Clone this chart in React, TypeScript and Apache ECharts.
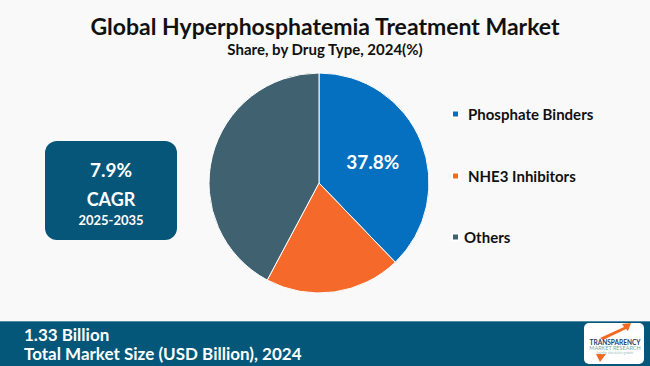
import React, { useEffect, useRef } from "react";
import * as echarts from "echarts";

const categories = ["Phosphate Binders", "NHE3 Inhibitors", "Others"];
const shares = [37.8, 20.0, 42.2];
const colors = ["#0570bf", "#f56a2a", "#3f6170"];
const titleText = "Global Hyperphosphatemia Treatment Market";
const subtitleText = "Share, by Drug Type, 2024(%)";
const cagrValue = "7.9%";
const cagrLabel = "CAGR";
const cagrPeriod = "2025-2035";
const marketSize = "1.33 Billion";
const marketLabel = "Total Market Size (USD Billion), 2024";

const legendCenters = [114, 176, 237];

export default function App() {
  const ref = useRef<HTMLDivElement>(null);
  useEffect(() => {
    document.body.style.margin = "0";
    const chart = echarts.init(ref.current!, null, { renderer: "svg" });
    const font = "Lato, 'Open Sans', sans-serif";
    chart.setOption({
      animation: false,
      backgroundColor: "#f9f9f9",
      title: [
        {
          text: titleText,
          left: "center",
          top: 9,
          textStyle: { fontFamily: font, fontSize: 23, fontWeight: "bold", color: "#111" },
        },
        {
          text: subtitleText,
          left: "center",
          top: 36,
          textStyle: { fontFamily: font, fontSize: 15, fontWeight: "bold", color: "#111" },
        },
      ],
      legend: categories.map((c, i) => ({
        data: [c],
        left: 451,
        top: legendCenters[i] - 8,
        padding: 0,
        icon: "rect",
        itemWidth: 7,
        itemHeight: 7,
        itemGap: 0,
        selectedMode: false,
        textStyle: {
          fontFamily: font,
          fontSize: 15,
          fontWeight: "bold",
          color: "#111",
          lineHeight: 16,
          padding: [0, 0, 0, i === 2 ? 0 : 4],
        },
      })),
      series: [
        {
          type: "pie",
          center: [319, 183],
          radius: 110,
          startAngle: 90,
          clockwise: true,
          itemStyle: { borderColor: "#ffffff", borderWidth: 1 },
          labelLine: { show: false },
          data: categories.map((c, i) => ({
            name: c,
            value: shares[i],
            itemStyle: { color: colors[i] },
            label: {
              show: i === 0,
              position: "inside",
              formatter: "{c}%",
              color: "#fff",
              fontFamily: font,
              fontSize: 19,
              fontWeight: "bold",
            },
          })),
        },
      ],
      graphic: [
        {
          type: "rect",
          shape: { x: 45, y: 141, width: 132, height: 99, r: 12 },
          style: { fill: "#06567a" },
        },
        {
          type: "text",
          x: 111,
          y: 169,
          style: {
            text: cagrValue,
            fill: "#fff",
            font: `bold 19px ${font}`,
            align: "center",
            verticalAlign: "middle",
          },
        },
        {
          type: "text",
          x: 111,
          y: 199,
          style: {
            text: cagrLabel,
            fill: "#fff",
            font: `bold 18px ${font}`,
            align: "center",
            verticalAlign: "middle",
          },
        },
        {
          type: "text",
          x: 111,
          y: 219.5,
          style: {
            text: cagrPeriod,
            fill: "#fff",
            font: `bold 13px ${font}`,
            align: "center",
            verticalAlign: "middle",
          },
        },
        {
          type: "rect",
          shape: { x: 0, y: 321, width: 650, height: 45 },
          style: { fill: "#045779" },
        },
        {
          type: "line",
          shape: { x1: 0, y1: 321.5, x2: 650, y2: 321.5 },
          style: { stroke: "#4f8aa6", lineWidth: 1 },
        },
        {
          type: "text",
          x: 24,
          y: 334,
          style: {
            text: marketSize,
            fill: "#fff",
            font: `bold 17px ${font}`,
            verticalAlign: "middle",
          },
        },
        {
          type: "text",
          x: 24,
          y: 353,
          style: {
            text: marketLabel,
            fill: "#fff",
            font: `bold 17px ${font}`,
            verticalAlign: "middle",
          },
        },
        {
          type: "rect",
          shape: { x: 584, y: 323, width: 60, height: 41, r: 5 },
          style: { fill: "#ffffff" },
        },
        {
          type: "polygon",
          shape: { points: [[600, 338], [624, 327], [622, 324], [631, 323], [628, 331], [626, 329], [603, 340]] },
          style: { fill: "#f26a21" },
        },
        {
          type: "polygon",
          shape: { points: [[596, 354], [606, 354], [600, 362]] },
          style: { fill: "#f26a21" },
        },
        {
          type: "text",
          x: 615,
          y: 342,
          style: {
            text: "TRANSPARENCY",
            fill: "#1b3f6b",
            font: `bold 6.5px ${font}`,
            align: "center",
            verticalAlign: "middle",
          },
        },
        {
          type: "text",
          x: 615,
          y: 348,
          style: {
            text: "MARKET RESEARCH",
            fill: "#7aa9a0",
            font: `5.5px ${font}`,
            align: "center",
            verticalAlign: "middle",
          },
        },
        {
          type: "text",
          x: 615,
          y: 352.5,
          style: {
            text: "Insights that deliver growth",
            fill: "#9bb",
            font: `3px ${font}`,
            align: "center",
            verticalAlign: "middle",
          },
        },
      ],
    });
    return () => chart.dispose();
  }, []);
  return <div ref={ref} style={{ width: 650, height: 366 }} />;
}
